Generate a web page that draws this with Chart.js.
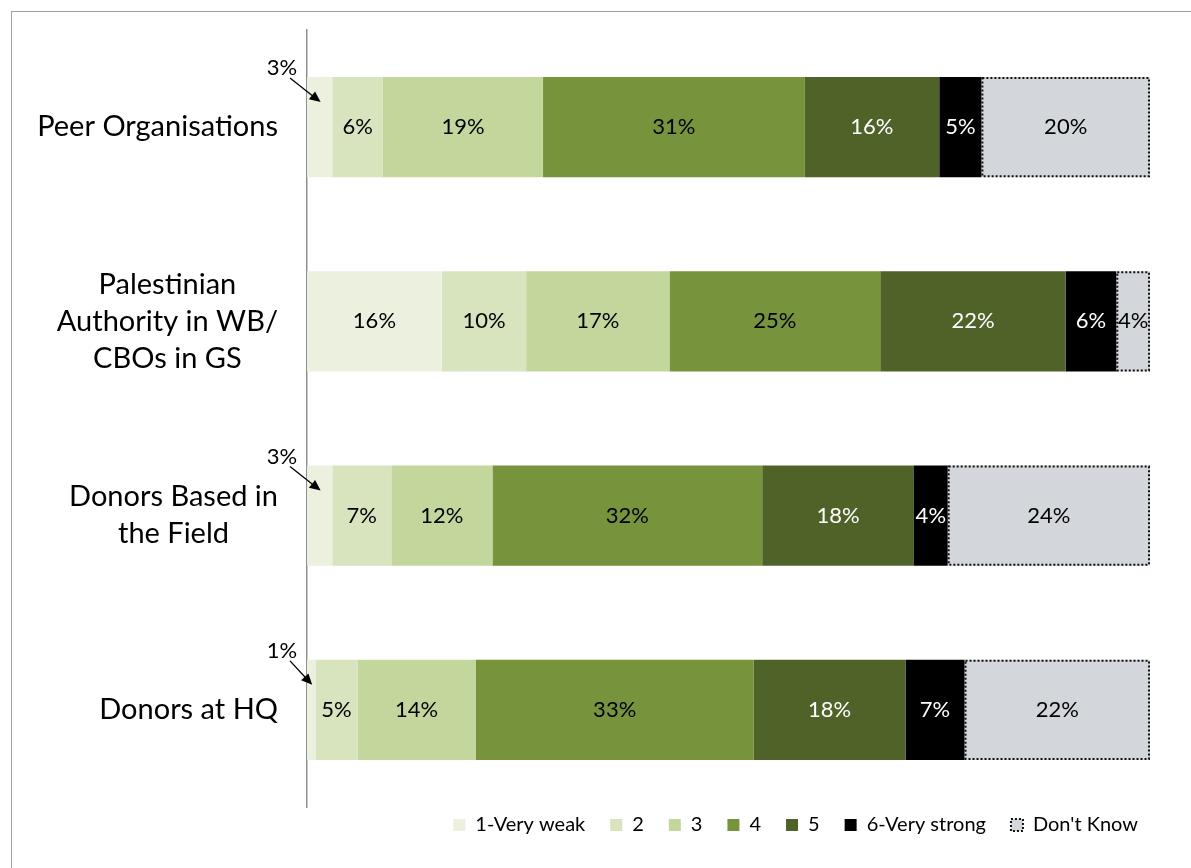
<!DOCTYPE html>
<html lang="en">
<head>
<meta charset="UTF-8">
<title>Relationship strength by stakeholder</title>
<style>
    * { margin: 0; padding: 0; box-sizing: border-box; }
    body { width: 1191px; height: 868px; overflow: hidden; background: #fff; position: relative; }
    .frame { position: absolute; left: 11px; top: 11px; width: 1300px; height: 1000px; border: 1px solid #a0a0a0; }
    #wrap { position: absolute; left: 0; top: 0; width: 1191px; height: 868px; }
</style>
<script src="https://cdn.jsdelivr.net/npm/chart.js@4.4.0/dist/chart.umd.min.js"></script>
</head>
<body>
<div class="frame"></div>
<div id="wrap"><canvas id="chart" width="1191" height="868"></canvas></div>
<script>
// categories (multi-line labels) and series
const categories = [
    ['Peer Organisations'],
    ['Palestinian', 'Authority in WB/', 'CBOs in GS'],
    ['Donors Based in', 'the Field'],
    ['Donors at HQ']
];
const seriesNames = ['1-Very weak', '2', '3', '4', '5', '6-Very strong', "Don't Know"];
const veryWeak   = [3, 16, 3, 1];
const level2     = [6, 10, 7, 5];
const level3     = [19, 17, 12, 14];
const level4     = [31, 25, 32, 33];
const level5     = [16, 22, 18, 18];
const veryStrong = [5, 6, 4, 7];
const dontKnow   = [20, 4, 24, 22];

const seriesValues = [veryWeak, level2, level3, level4, level5, veryStrong, dontKnow];
const fills = ['#EBF1DE', '#D7E4BD', '#C3D69B', '#77933C', '#4F6228', '#000000', '#D3D6DA'];
const textColors = ['#000', '#000', '#000', '#000', '#fff', '#fff', '#000'];
const DK = 6;
const FONT = 'Lato, "Open Sans", sans-serif';

// category labels: block right-aligned, lines centred inside the block
const categoryLabels = {
    id: 'categoryLabels',
    afterDraw(chart) {
        const ctx = chart.ctx;
        const y = chart.scales.y;
        ctx.save();
        ctx.font = '29px ' + FONT;
        ctx.fillStyle = '#000';
        ctx.textAlign = 'center';
        ctx.textBaseline = 'middle';
        const right = 278, lineH = 37;
        categories.forEach((lines, i) => {
            const cy = y.getPixelForValue(i);
            const w = Math.max(...lines.map(l => ctx.measureText(l).width));
            const cx = right - w / 2;
            lines.forEach((l, j) => {
                ctx.fillText(l, cx, cy + (j - (lines.length - 1) / 2) * lineH);
            });
        });
        ctx.restore();
    }
};

// dotted outline for the Don't Know segments
const dkBorder = {
    id: 'dkBorder',
    afterDatasetsDraw(chart) {
        const ctx = chart.ctx;
        ctx.save();
        ctx.strokeStyle = '#111';
        ctx.lineWidth = 2;
        ctx.setLineDash([2, 2]);
        chart.getDatasetMeta(DK).data.forEach(bar => {
            const p = bar.getProps(['x', 'y', 'base', 'height'], true);
            const l = Math.min(p.x, p.base), r = Math.max(p.x, p.base);
            ctx.strokeRect(l + 1, p.y - p.height / 2 + 1, r - l - 2, p.height - 2);
        });
        ctx.restore();
    }
};

// value labels, with a callout arrow for tiny first segments
const valueLabels = {
    id: 'valueLabels',
    afterDatasetsDraw(chart) {
        const ctx = chart.ctx;
        const left = chart.chartArea.left;
        ctx.save();
        ctx.font = '22px ' + FONT;
        ctx.textAlign = 'center';
        ctx.textBaseline = 'middle';
        seriesValues.forEach((vals, d) => {
            chart.getDatasetMeta(d).data.forEach((bar, i) => {
                const p = bar.getProps(['x', 'y', 'base', 'height'], true);
                const txt = vals[i] + '%';
                const mid = (p.x + p.base) / 2;
                if (d === 0 && vals[i] <= 3) {
                    const top = p.y - p.height / 2;
                    ctx.fillStyle = '#000';
                    ctx.fillText(txt, left - 25, top - 9);
                    const sx = left - 17, sy = top + 1;
                    const tx = mid + 1, ty = top + 25;
                    const ang = Math.atan2(ty - sy, tx - sx);
                    ctx.strokeStyle = '#000';
                    ctx.lineWidth = 1.3;
                    ctx.beginPath();
                    ctx.moveTo(sx, sy);
                    ctx.lineTo(tx - 8 * Math.cos(ang), ty - 8 * Math.sin(ang));
                    ctx.stroke();
                    ctx.beginPath();
                    ctx.moveTo(tx, ty);
                    ctx.lineTo(tx - 11 * Math.cos(ang) + 5 * Math.sin(ang), ty - 11 * Math.sin(ang) - 5 * Math.cos(ang));
                    ctx.lineTo(tx - 11 * Math.cos(ang) - 5 * Math.sin(ang), ty - 11 * Math.sin(ang) + 5 * Math.cos(ang));
                    ctx.closePath();
                    ctx.fill();
                } else {
                    ctx.fillStyle = textColors[d];
                    ctx.fillText(txt, mid, p.y);
                }
            });
        });
        ctx.restore();
    }
};

// nudge the legend into the spot it has in the original
const legendShift = {
    id: 'legendShift',
    afterLayout(chart) {
        const lg = chart.legend;
        lg.left += 13; lg.right += 13;
        lg.top -= 17; lg.bottom -= 17;
    }
};

new Chart(document.getElementById('chart'), {
    type: 'bar',
    data: {
        labels: categories.map(c => c.join(' ')),
        datasets: seriesValues.map((vals, d) => ({
            label: seriesNames[d],
            data: vals,
            backgroundColor: fills[d],
            borderWidth: 0,
            categoryPercentage: 1,
            barPercentage: 0.515
        }))
    },
    options: {
        indexAxis: 'y',
        responsive: false,
        animation: false,
        devicePixelRatio: 1,
        layout: { padding: { top: 30, right: 41, left: 0, bottom: 6 } },
        scales: {
            x: { stacked: true, min: 0, max: 100, display: false },
            y: {
                stacked: true,
                grid: { display: false },
                ticks: { display: false },
                border: { display: true, color: '#8f8f8f', width: 1.5 },
                afterFit(scale) { scale.width = 307; }
            }
        },
        plugins: {
            tooltip: { enabled: false },
            legend: {
                position: 'bottom',
                align: 'end',
                labels: {
                    font: { family: FONT, size: 20 },
                    color: '#000',
                    boxWidth: 12,
                    boxHeight: 12,
                    padding: 25,
                    generateLabels(chart) {
                        const items = Chart.defaults.plugins.legend.labels.generateLabels(chart);
                        items.forEach(it => {
                            if (it.datasetIndex === DK) {
                                it.strokeStyle = '#111';
                                it.lineWidth = 2;
                                it.lineDash = [2, 2];
                            } else {
                                it.lineWidth = 0;
                            }
                        });
                        return items;
                    }
                }
            }
        }
    },
    plugins: [categoryLabels, dkBorder, valueLabels, legendShift]
});
</script>
</body>
</html>
